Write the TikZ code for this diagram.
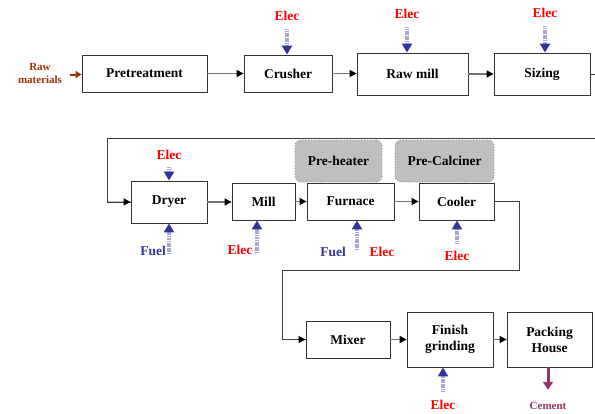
\documentclass[tikz,border=0pt]{standalone}
\usepackage{fontspec}
\setmainfont{Liberation Serif}
\usetikzlibrary{arrows.meta}
\definecolor{elecred}{HTML}{FF0000}
\definecolor{fuelblue}{HTML}{333399}
\definecolor{shaftblue}{HTML}{A8A8D8}
\definecolor{rawbrown}{HTML}{993300}
\definecolor{cemred}{HTML}{993366}
\begin{document}
\begin{tikzpicture}[x=1pt,y=-1pt,
  box/.style={draw=black!80,line width=0.8pt,fill=white,align=center,inner sep=0pt,font=\fontsize{13.5}{16}\selectfont\bfseries},
  hood/.style={draw=gray,dotted,line width=0.8pt,fill=black!25,rounded corners=6pt,inner sep=0pt,font=\fontsize{13.5}{16}\selectfont\bfseries},
  flow/.style={draw=black!55,line width=1.2pt,-{Triangle[length=7pt,width=7pt,color=black]}},
  loop/.style={draw=black!75,line width=0.8pt},
  elec/.style={draw=shaftblue,line width=4pt,dash pattern=on 1.2pt off 0.5pt,-{Triangle[length=9pt,width=10pt,color=fuelblue]}},
  elab/.style={text=elecred,font=\fontsize{13.5}{16}\selectfont\bfseries},
  flab/.style={text=fuelblue,font=\fontsize{13.5}{16}\selectfont\bfseries}]
\useasboundingbox (0,0) rectangle (595,413);
\pgfmathsetmacro{\ra}{73.5}
\pgfmathsetmacro{\rb}{201.5}
\pgfmathsetmacro{\rc}{339.5}
% first row
\node[box,minimum width=125pt,minimum height=37pt](pre) at (144.5,\ra){Pretreatment};
\node[box,minimum width=88pt,minimum height=37pt](cru) at (288,\ra){Crusher};
\node[box,minimum width=111pt,minimum height=42pt](rmi) at (412.5,74){Raw mill};
\node[box,minimum width=96pt,minimum height=42pt](siz) at (542,74){Sizing};
\node[text=rawbrown,align=center,font=\fontsize{11}{13}\selectfont\bfseries](raw) at (40,73){Raw\\materials};
\coordinate (rin) at (70,74.5);
\draw[rawbrown,line width=2pt,-{Triangle[length=6pt,width=7pt]}] (rin)--(pre.west|-rin);
\draw[flow](pre)--(cru);
\draw[flow](cru.east)--(rmi.west|-cru.east);
\draw[flow](rmi)--(siz);
\node[elab](ecr) at (287,16){Elec};
\node[elab](erm) at (407,14){Elec};
\node[elab](esz) at (545,13){Elec};
\draw[elec,shorten <=5pt](ecr.south)--(ecr.south|-cru.north);
\draw[elec,shorten <=5pt](erm.south)--(erm.south|-rmi.north);
\draw[elec,shorten <=5pt](esz.south)--(esz.south|-siz.north);
% second row
\node[box,minimum width=76pt,minimum height=42pt](dry) at (169,202){Dryer};
\node[box,minimum width=63pt,minimum height=37pt](mil) at (263.5,\rb){Mill};
\node[box,minimum width=87pt,minimum height=37pt](fur) at (350.5,\rb){Furnace};
\node[box,minimum width=75pt,minimum height=37pt](coo) at (456.5,\rb){Cooler};
\node[hood,minimum width=87pt,minimum height=42pt](phe) at (338.5,161){Pre-heater};
\node[hood,minimum width=99pt,minimum height=42pt](pca) at (444.5,161){Pre-Calciner};
\draw[loop](siz.east)--++(12,0)|-(107,138)|-(dry.west);
\draw[flow,draw=black!75,line width=0.8pt](107,201.9)--(dry.west);
\draw[flow](dry.east)--(mil.west|-dry.east);
\draw[flow](mil)--(fur);
\draw[flow](fur)--(coo);
\node[elab](edr) at (169,155){Elec};
\draw[elec,shorten <=4pt](edr.south)--(dry.north);
\node[flab](fdr) at (153,251){Fuel};
\coordinate (tdr) at (169,254);
\draw[elec](tdr)--(dry.south);
\node[elab](emi) at (240,250){Elec};
\coordinate (tmi) at (257,253);
\draw[elec](tmi)--(tmi|-mil.south);
\node[flab](ffu) at (333,252){Fuel};
\node[elab](efu) at (382,252){Elec};
\coordinate (tfu) at (357,250);
\draw[elec](tfu)--(tfu|-fur.south);
\node[elab](eco) at (457,256){Elec};
\draw[elec,shorten <=4pt](eco.north)--(eco.north|-coo.south);
% third row
\node[box,minimum width=84pt,minimum height=37pt](mix) at (348,\rc){Mixer};
\node[box,minimum width=86pt,minimum height=55pt](fin) at (450,\rc){Finish\\grinding};
\node[box,minimum width=85pt,minimum height=55pt](pac) at (549.5,\rc){Packing\\House};
\draw[loop](coo.east)--(519,\rb)|-(282,270)|-(mix.west);
\draw[flow,draw=black!75,line width=0.8pt](282,\rc)--(mix.west);
\draw[flow](mix)--(fin);
\draw[flow](fin)--(pac);
\node[elab](efi) at (443,405){Elec};
\draw[elec,shorten <=5pt](efi.north)--(efi.north|-fin.south);
\node[text=cemred,font=\fontsize{11}{13}\selectfont\bfseries](cem) at (548,406){Cement};
\draw[cemred,line width=3pt,shorten >=9pt,-{Triangle[length=8pt,width=10pt]}](cem.north|-pac.south)--(cem.north);
\end{tikzpicture}
\end{document}
